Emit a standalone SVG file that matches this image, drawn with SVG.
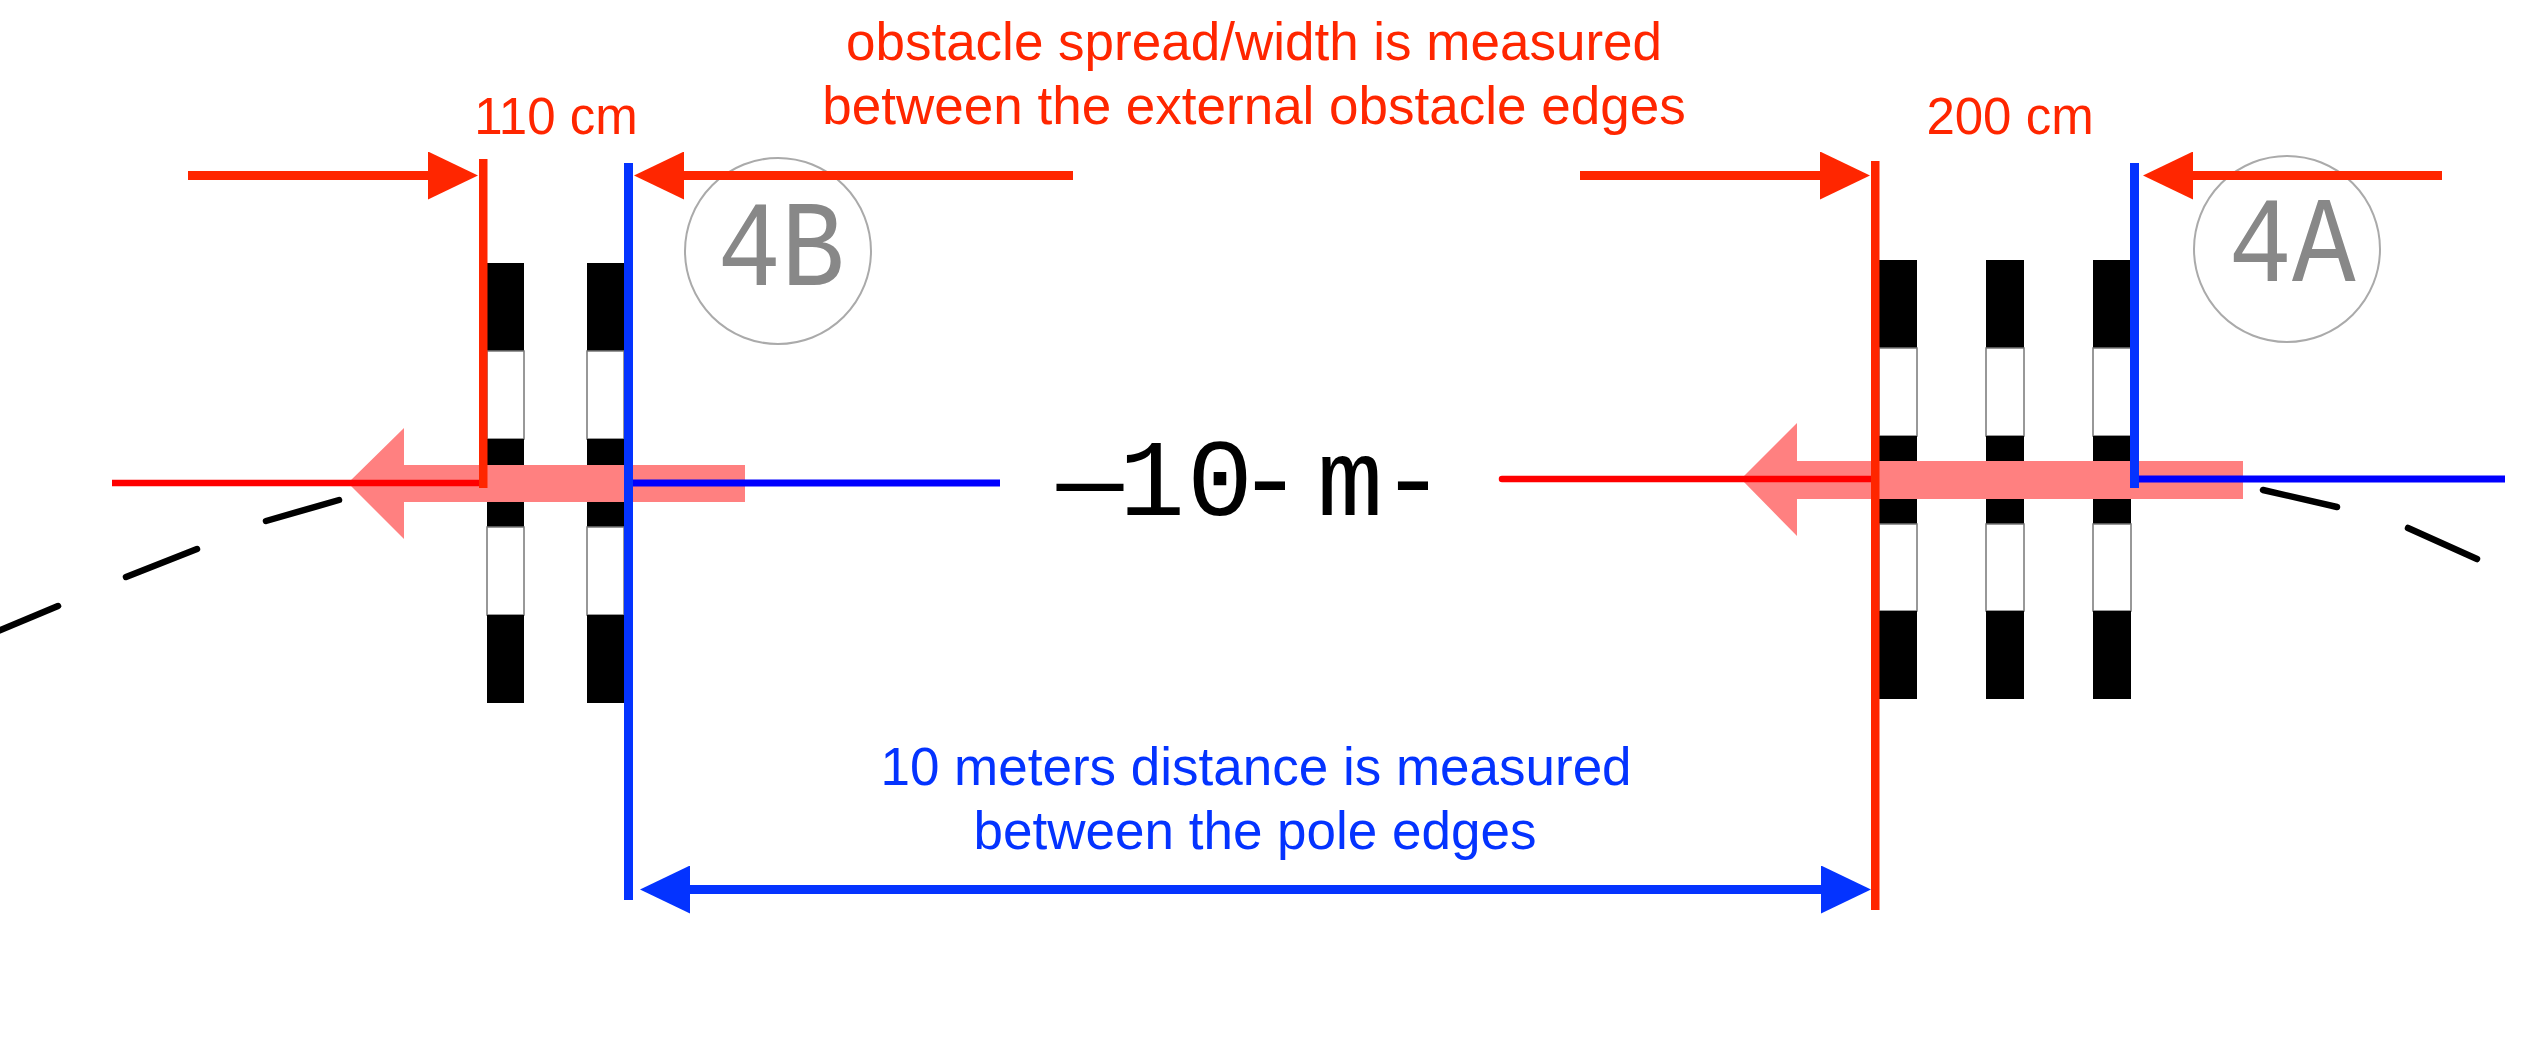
<svg xmlns="http://www.w3.org/2000/svg" width="2538" height="1050" viewBox="0 0 2538 1050">
<style>
.lbl{font-family:"Liberation Sans",Arial,sans-serif;font-size:53px;text-anchor:middle}
.cm{font-family:"Liberation Sans",Arial,sans-serif;font-size:51px;text-anchor:middle;fill:#FF2600}
.red{fill:#FF2600}
.blue{fill:#0433FF}
.blk{fill:#000}
.wht{fill:#fff;stroke:#777;stroke-width:1.5}
.pink{fill:#FF8080}
.dash{stroke:#000;stroke-width:6.5;stroke-linecap:round;fill:none}
.tag{fill:none;stroke:#aaa;stroke-width:2}
.tagt{font-family:"Liberation Mono","Courier New",monospace;font-size:106px;text-anchor:middle;fill:#888}
.mono{font-family:"Liberation Mono","Courier New",monospace;font-size:110px;text-anchor:middle;fill:#000}
.dimR{stroke:#FF2600;stroke-width:9;fill:none}
.dimB{stroke:#0433FF;stroke-width:9;fill:none}
</style>
<defs>
<marker id="ahR" viewBox="0 0 50 48" refX="0" refY="24" markerWidth="50" markerHeight="48" markerUnits="userSpaceOnUse" orient="auto-start-reverse"><path d="M0,0 L50,24 L0,48 Z" fill="#FF2600"/></marker>
<marker id="ahB" viewBox="0 0 50 48" refX="0" refY="24" markerWidth="50" markerHeight="48" markerUnits="userSpaceOnUse" orient="auto-start-reverse"><path d="M0,0 L50,24 L0,48 Z" fill="#0433FF"/></marker>
</defs>
<rect width="2538" height="1050" fill="#fff"/>

<g id="track">
<line class="dash" x1="-2" y1="631" x2="58" y2="606"/>
<line class="dash" x1="126" y1="577" x2="197" y2="549"/>
<line class="dash" x1="266" y1="521" x2="339" y2="500"/>
<line class="dash" x1="2263" y1="490" x2="2337" y2="507"/>
<line class="dash" x1="2408" y1="528" x2="2477" y2="559"/>
</g>

<g id="obstacle-4B">
<g id="pole-4B-1">
<rect class="blk" x="487" y="263" width="37" height="88"/>
<rect class="wht" x="487" y="351" width="37" height="88"/>
<rect class="blk" x="487" y="439" width="37" height="88"/>
<rect class="wht" x="487" y="527" width="37" height="88"/>
<rect class="blk" x="487" y="615" width="37" height="88"/>
</g>
<g id="pole-4B-2">
<rect class="blk" x="587" y="263" width="37" height="88"/>
<rect class="wht" x="587" y="351" width="37" height="88"/>
<rect class="blk" x="587" y="439" width="37" height="88"/>
<rect class="wht" x="587" y="527" width="37" height="88"/>
<rect class="blk" x="587" y="615" width="37" height="88"/>
</g>
<circle class="tag" cx="778" cy="251" r="93"/>
<text class="tagt" transform="translate(781,285) scale(1,1.15)">4B</text>
</g>

<g id="obstacle-4A">
<g id="pole-4A-1">
<rect class="blk" x="1879" y="260" width="38" height="88"/>
<rect class="wht" x="1879" y="348" width="38" height="88"/>
<rect class="blk" x="1879" y="436" width="38" height="88"/>
<rect class="wht" x="1879" y="524" width="38" height="87"/>
<rect class="blk" x="1879" y="611" width="38" height="88"/>
</g>
<g id="pole-4A-2">
<rect class="blk" x="1986" y="260" width="38" height="88"/>
<rect class="wht" x="1986" y="348" width="38" height="88"/>
<rect class="blk" x="1986" y="436" width="38" height="88"/>
<rect class="wht" x="1986" y="524" width="38" height="87"/>
<rect class="blk" x="1986" y="611" width="38" height="88"/>
</g>
<g id="pole-4A-3">
<rect class="blk" x="2093" y="260" width="38" height="88"/>
<rect class="wht" x="2093" y="348" width="38" height="88"/>
<rect class="blk" x="2093" y="436" width="38" height="88"/>
<rect class="wht" x="2093" y="524" width="38" height="87"/>
<rect class="blk" x="2093" y="611" width="38" height="88"/>
</g>
<circle class="tag" cx="2287" cy="249" r="93"/>
<text class="tagt" transform="translate(2292,281) scale(1,1.15)">4A</text>
</g>

<g id="connectors">
<polygon class="pink" points="348,483 404,428 404,465 745,465 745,502 404,502 404,539"/>
<polygon class="pink" points="1741,479 1797,423 1797,461 2243,461 2243,499 1797,499 1797,536"/>
<line x1="112" y1="483" x2="483" y2="483" stroke="#FF0000" stroke-width="6.5"/>
<line x1="628" y1="483" x2="1000" y2="483" stroke="#0000FF" stroke-width="7"/>
<line x1="1502" y1="479" x2="1875" y2="479" stroke="#FF0000" stroke-width="6.5" stroke-linecap="round"/>
<line x1="2134" y1="479" x2="2505" y2="479" stroke="#0000FF" stroke-width="7"/>
<rect class="red" x="479" y="159" width="8.5" height="329"/>
<rect class="blue" x="624" y="163" width="9" height="737"/>
<rect class="red" x="1871" y="161" width="8.5" height="749"/>
<rect class="blue" x="2130" y="163" width="9" height="325"/>
<line class="dimR" x1="188" y1="175.5" x2="428" y2="175.5" marker-end="url(#ahR)"/>
<line class="dimR" x1="1073" y1="175.5" x2="684" y2="175.5" marker-end="url(#ahR)"/>
<line class="dimR" x1="1580" y1="175.5" x2="1820" y2="175.5" marker-end="url(#ahR)"/>
<line class="dimR" x1="2442" y1="175.5" x2="2193" y2="175.5" marker-end="url(#ahR)"/>
<line class="dimB" x1="690" y1="889.5" x2="1821" y2="889.5" marker-start="url(#ahB)" marker-end="url(#ahB)"/>
</g>

<g id="labels">
<text class="cm" x="556" y="134">110 cm</text>
<text class="cm" x="2010" y="134">200 cm</text>
<text class="lbl red" x="1254" y="60">obstacle spread/width is measured</text>
<text class="lbl red" x="1254" y="124">between the external obstacle edges</text>
<text class="lbl blue" x="1256" y="785">10 meters distance is measured</text>
<text class="lbl blue" x="1255" y="849">between the pole edges</text>
<text class="mono" x="1090 1152 1220 1270 1310 1350 1413" y="515">—10- m-</text>
</g>
</svg>
